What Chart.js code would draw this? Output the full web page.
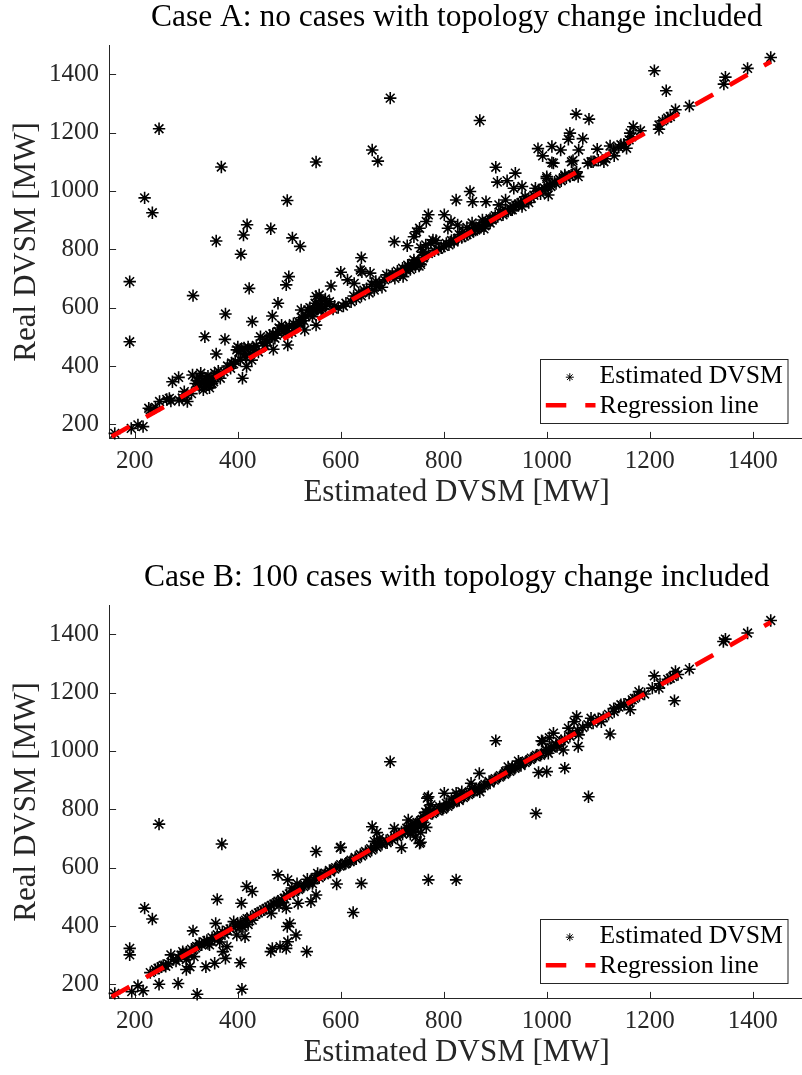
<!DOCTYPE html>
<html><head><meta charset="utf-8">
<script src="https://cdn.jsdelivr.net/npm/chart.js@4.4.1/dist/chart.umd.min.js"></script>
<style>
html,body{margin:0;padding:0;background:#fff;overflow:hidden;width:802px;height:1075px;}
#wrap{position:relative;width:802px;height:1075px;overflow:hidden;background:#fff;}
canvas{position:absolute;left:0;}
#cA{top:0px;} #cB{top:560px;}
</style></head><body>
<div id="wrap"><canvas id="cA" width="812" height="515"></canvas><canvas id="cB" width="812" height="515"></canvas></div>
<script>
// ---------- data ----------
const xTicks = [200,400,600,800,1000,1200,1400];
const yTicks = [200,400,600,800,1000,1200,1400];
const xRange = [150,1500];
const yRange = [150,1500];
const titleA = 'Case A: no cases with topology change included';
const titleB = 'Case B: 100 cases with topology change included';
const xLabel = 'Estimated DVSM [MW]';
const yLabel = 'Real DVSM [MW]';
const seriesNames = ['Estimated DVSM','Regression line'];

const caseA = [
[190,689],[190,483],[219,976],[234,925],[247,1213],[313,641],[358,828],[368,1082],[406,783],[411,849],
[418,884],[422,666],[464,870],[496,967],[494,678],[499,706],[506,839],[521,810],[552,1099],[661,1140],
[672,1102],[696,1318],[870,1241],[1209,1412],[1232,1343],[1057,1263],[1082,1246],[336,500],[375,491],[376,578],
[358,441],[428,552],[467,571],[478,615],[600,721],[640,771],[704,826],[729,812],[770,918],[801,918],
[638,729],[581,674],[613,695],[626,683],[641,723],[657,718],[670,672],[689,712],[728,729],[523,592],
[536,592],[552,638],[558,643],[545,569],[552,540],[530,523],[161,169],[193,186],[206,198],[216,192],
[227,255],[248,278],[267,289],[286,283],[273,346],[285,361],[302,278],[296,312],[312,369],[328,375],
[325,329],[338,358],[344,335],[333,318],[353,346],[366,358],[373,380],[386,392],[392,407],[395,415],
[398,455],[408,457],[417,398],[427,420],[409,358],[444,500],[453,469],[465,500],[478,518],[494,529],
[497,472],[469,457],[330,345],[340,340],[348,360],[355,375],[360,368],[320,350],[335,330],[345,325],
[350,340],[300,300],[310,305],[292,290],[262,285],[270,280],[230,250],[240,258],[405,420],[415,430],
[425,440],[432,455],[440,448],[402,448],[412,462],[420,465],[400,465],[455,490],[462,505],[472,495],
[480,530],[488,520],[485,540],[500,535],[505,515],[510,530],[515,540],[520,545],[528,555],[538,575],
[548,590],[555,600],[560,610],[565,595],[570,605],[540,600],[550,615],[560,625],[570,630],[585,595],
[595,600],[605,605],[620,620],[630,630],[640,640],[650,665],[660,680],[665,660],[675,685],[680,670],
[700,715],[710,725],[720,735],[730,745],[740,752],[745,740],[750,760],[755,748],[735,730],[742,763],
[721,706],[760,770],[755,805],[765,815],[775,820],[785,830],[760,790],[820,830],[830,850],[840,845],
[850,860],[860,870],[870,880],[880,890],[845,875],[855,890],[890,905],[900,915],[910,925],[920,935],
[930,940],[940,950],[950,960],[960,970],[970,975],[985,1000],[995,1010],[1005,1020],[1015,1030],[1025,1040],
[1035,1050],[1045,1050],[1055,1060],[742,843],[747,860],[753,872],[766,895],[814,895],[808,872],[827,883],
[837,860],[779,832],[875,900],[862,866],[894,900],[851,998],[824,969],[856,963],[882,963],[907,952],
[920,969],[901,1081],[939,1061],[904,1030],[923,1035],[936,1009],[952,1015],[933,935],[952,946],[958,980],
[984,1003],[1000,1043],[1003,986],[1013,1095],[1048,1100],[978,1009],[1000,1049],[1035,1055],[1061,1049],[983,1145],
[1010,1152],[1027,1140],[1062,1140],[1098,1143],[992,1120],[1010,1097],[1051,1104],[1086,1100],[1111,1100],[1131,1120],
[1045,1198],[1042,1177],[1070,1179],[1123,1154],[1144,1158],[1155,1146],[1168,1220],[1182,1206],[1162,1198],[1218,1226],
[1218,1211],[1240,1255],[1250,1278],[1277,1291],[1344,1366],[1347,1390],[1390,1420],[1435,1457],[1080,1095],[1090,1100],
[1100,1105],[1115,1110],[1130,1140],[1140,1150],[1150,1160],[1160,1175],[1165,1185],[1225,1240],[1235,1250],[790,800],
[800,810],[810,815],[820,825],[850,855],[865,870],[880,880],[890,890],[915,925],[930,935],[945,950],
[335,350],[342,365],[318,340],[326,362],[362,382],[380,400],[388,410],[414,442],[430,462],[436,470],
[448,478],[458,482],[468,510],[475,505],[492,512],[508,545],[518,552],[525,565],[532,570],[544,585],
[553,595],[562,590],[572,612],[578,620],[588,605],[610,615],[625,640],[635,650],[645,660],[655,650],
[668,690],[685,695],[695,705],[705,700],[715,712],[725,730],[732,738],[738,745],[748,752],[752,742],
[758,760],[762,780],[770,785],[782,795],[795,805],[805,820],[815,830],[828,838],[835,840],[845,850],
[858,862],[868,875],[878,870],[885,895],[895,905],[905,912],[915,918],[925,930],[935,945],[945,955],
[955,965],[965,960],[975,985],[988,990],[998,1005],[1008,1015],[1018,1025],[1028,1035],[1038,1045],[1050,1055],
[1058,1065]
];
const regA = [[155,158],[1435,1443]];

const caseB = [
[696,963],[247,749],[369,681],[219,461],[234,424],[190,323],[190,301],[206,195],[194,175],[216,178],
[247,200],[284,203],[321,166],[408,183],[161,169],[405,274],[313,383],[307,260],[300,251],[338,260],
[270,301],[251,260],[293,312],[360,491],[357,409],[371,312],[376,289],[355,272],[379,329],[407,478],
[417,535],[428,518],[392,415],[398,369],[414,363],[464,312],[467,323],[482,329],[494,323],[497,346],
[513,369],[534,312],[501,409],[496,398],[478,575],[497,558],[494,461],[552,655],[600,670],[592,544],
[640,546],[624,446],[770,558],[824,558],[753,683],[661,740],[542,483],[517,478],[552,506],[465,443],
[670,720],[704,734],[768,838],[801,855],[766,738],[731,763],[1435,1447],[1390,1404],[1347,1383],[1343,1375],
[1277,1280],[1250,1272],[1240,1249],[1209,1257],[1218,1215],[1248,1172],[1179,1203],[1166,1175],[1162,1141],[1144,1158],
[1131,1135],[1123,1058],[1086,1112],[1106,1100],[1058,1118],[1053,1100],[1062,1055],[1042,1078],[1061,1015],[1035,941],
[1081,843],[979,786],[901,1035],[1013,1061],[992,1032],[1003,992],[1032,1003],[984,926],[1000,929],[949,958],
[933,946],[920,929],[869,923],[853,889],[824,855],[792,809],[599,668],[718,668],[755,687],[770,843],
[990,1035],[1005,1045],[230,240],[245,255],[255,265],[265,270],[275,285],[285,290],[290,300],[300,310],
[310,320],[320,330],[330,335],[300,285],[315,295],[340,350],[350,360],[360,370],[370,380],[380,385],
[345,335],[365,345],[395,400],[405,410],[415,420],[425,430],[435,440],[410,395],[420,405],[445,450],
[455,460],[465,470],[475,480],[485,490],[480,470],[490,495],[500,510],[510,520],[520,530],[530,540],
[540,550],[505,530],[515,545],[535,560],[545,545],[550,565],[560,575],[570,580],[580,585],[555,580],
[590,600],[600,610],[610,615],[620,625],[630,630],[640,640],[650,650],[660,660],[670,670],[680,680],
[690,685],[700,695],[665,690],[675,700],[710,705],[720,715],[730,725],[740,735],[750,740],[745,750],
[755,760],[735,745],[760,755],[780,790],[790,800],[800,805],[810,815],[820,825],[830,830],[840,845],
[850,855],[860,865],[870,875],[880,885],[890,890],[855,870],[870,860],[900,905],[910,915],[920,925],
[930,935],[940,945],[950,950],[925,945],[945,965],[960,965],[970,975],[980,985],[990,990],[1000,1000],
[1010,1010],[1020,1015],[1130,1145],[1140,1150],[1150,1160],[1160,1165],[1170,1180],[1180,1190],[1190,1195],[1205,1215],
[1220,1230],[1235,1245],[1245,1255],[1255,1262],[1070,1080],[1080,1090],[1090,1095],[1100,1110],[1110,1115],[1120,1125],
[1025,1030],[1035,1040],[1045,1050],[1050,1060],[1060,1070],[735,715],[740,725],[745,735],[750,745],[760,775],
[765,790],[770,800],[775,815],[745,705],[755,720],[805,820],[815,835],[825,845],[835,860],
[240,250],[260,262],[280,280],[295,305],[305,300],[318,325],[325,340],[335,345],[342,340],[355,355],
[362,360],[375,372],[385,390],[400,405],[408,400],[418,425],[428,420],[440,445],[450,455],[460,465],
[470,475],[478,485],[488,480],[495,505],[508,515],[518,525],[528,535],[538,545],[548,560],[558,565],
[568,575],[578,590],[588,595],[598,605],[608,612],[618,620],[628,635],[638,645],[648,655],[658,665],
[668,675],[678,685],[688,692],[698,700],[708,712],[718,722],[728,735],[738,742],[748,755],[758,765],
[768,780],[778,785],[788,795],[798,800],[808,810],[818,822],[828,835],[838,840],[848,850],[858,860],
[868,870],[878,880],[888,895],[898,900],[908,910],[918,920],[928,930],[938,940],[948,955],[958,960],
[968,970],[978,980],[988,985],[998,1005],[1008,1012],[1018,1020],[1028,1035]
];
const regB = [[155,157],[1435,1441]];

// ---------- rendering ----------
const FAM = "'Liberation Serif','Times New Roman',serif";
Chart.defaults.font.family = FAM;
const AX = '#262626';

const inwardTicks = {
  id: 'inwardTicks',
  beforeDatasetsDraw(chart) {
    const {ctx, chartArea: a, scales: {x, y}} = chart;
    ctx.save();
    ctx.strokeStyle = AX; ctx.lineWidth = 1;
    ctx.beginPath();
    x.ticks.forEach(t => { const px = Math.round(x.getPixelForValue(t.value)) + 0.5; ctx.moveTo(px, a.bottom); ctx.lineTo(px, a.bottom - 7); });
    y.ticks.forEach(t => { const py = Math.round(y.getPixelForValue(t.value)) + 0.5; ctx.moveTo(a.left, py); ctx.lineTo(a.left + 7, py); });
    ctx.stroke();
    ctx.restore();
  }
};

const legendBox = {
  id: 'legendBox',
  afterDraw(chart) {
    const {ctx, chartArea: a} = chart;
    const ds = chart.data.datasets;
    const W = 247.5, H = 64;
    const L = Math.round(a.right - 17 - W) + 0.5, T = Math.round(a.bottom - 15.6 - H) + 0.5;
    ctx.save();
    ctx.fillStyle = '#fff';
    ctx.fillRect(L, T, W, H);
    ctx.strokeStyle = AX; ctx.lineWidth = 1;
    ctx.strokeRect(L, T, W, H);
    ctx.strokeStyle = '#000'; ctx.fillStyle = '#000';
    Chart.helpers.drawPoint(ctx, {pointStyle: 'star', radius: 4, borderWidth: 1.4}, L + 29.3, T + 17.7);
    ctx.strokeStyle = ds[1].borderColor; ctx.lineWidth = ds[1].borderWidth;
    ctx.setLineDash(ds[1].borderDash);
    ctx.beginPath(); ctx.moveTo(L + 5.3, T + 45.7); ctx.lineTo(L + 55, T + 45.7); ctx.stroke();
    ctx.setLineDash([]);
    ctx.fillStyle = '#000';
    ctx.font = "25.7px " + FAM;
    ctx.textAlign = 'left'; ctx.textBaseline = 'alphabetic';
    ctx.fillText(ds[0].label, L + 59, T + 23.7);
    ctx.fillText(ds[1].label, L + 59, T + 53);
    ctx.restore();
  }
};

function makeChart(id, title, pts, reg) {
  return new Chart(document.getElementById(id), {
    type: 'scatter',
    data: {
      datasets: [
        { label: seriesNames[0], data: pts.map(p => ({x: p[0], y: p[1]})),
          pointStyle: 'star', pointRadius: 6.2, pointBorderWidth: 1.6, borderWidth: 1.6,
          borderColor: '#000', backgroundColor: '#000', showLine: false, clip: false, order: 2 },
        { label: seriesNames[1], type: 'line', data: reg.map(p => ({x: p[0], y: p[1]})),
          borderColor: '#ff0000', borderWidth: 4.6, borderDash: [20.5, 19], borderCapStyle: 'butt',
          pointRadius: 0, fill: false, showLine: true, clip: false, order: 1 }
      ]
    },
    options: {
      responsive: false, animation: false, devicePixelRatio: 1,
      layout: {padding: {left: 0, right: 0.7, top: 0, bottom: 0}},
      plugins: {
        legend: {display: false}, tooltip: {enabled: false},
        title: {display: true, text: title, fullSize: false, color: '#000',
          font: {family: FAM, size: 31.5, weight: 'normal', lineHeight: 1}, padding: {top: 2, bottom: 11.5}}
      },
      scales: {
        x: {
          type: 'linear', min: xRange[0], max: xRange[1],
          afterBuildTicks: s => { s.ticks = xTicks.map(v => ({value: v})); },
          afterFit: s => { s.height = 76.1; },
          ticks: {color: AX, font: {family: FAM, size: 25}, padding: 8, maxRotation: 0, autoSkip: false,
                  callback: v => String(v)},
          grid: {display: false, drawTicks: false},
          border: {display: true, color: AX, width: 1},
          title: {display: true, text: xLabel, color: AX, font: {family: FAM, size: 31, lineHeight: 1}, padding: {top: 0, bottom: 7}}
        },
        y: {
          type: 'linear', min: yRange[0], max: yRange[1],
          afterBuildTicks: s => { s.ticks = yTicks.map(v => ({value: v})); },
          afterFit: s => { s.width = 109.1; },
          ticks: {color: AX, font: {family: FAM, size: 25}, padding: 10, autoSkip: false,
                  callback: v => String(v)},
          grid: {display: false, drawTicks: false},
          border: {display: true, color: AX, width: 1},
          title: {display: true, text: yLabel, color: AX, font: {family: FAM, size: 31, lineHeight: 1}, padding: {top: 11.5, bottom: 0}}
        }
      }
    },
    plugins: [inwardTicks, legendBox]
  });
}

makeChart('cA', titleA, caseA, regA);
makeChart('cB', titleB, caseB, regB);
</script>
</body></html>
